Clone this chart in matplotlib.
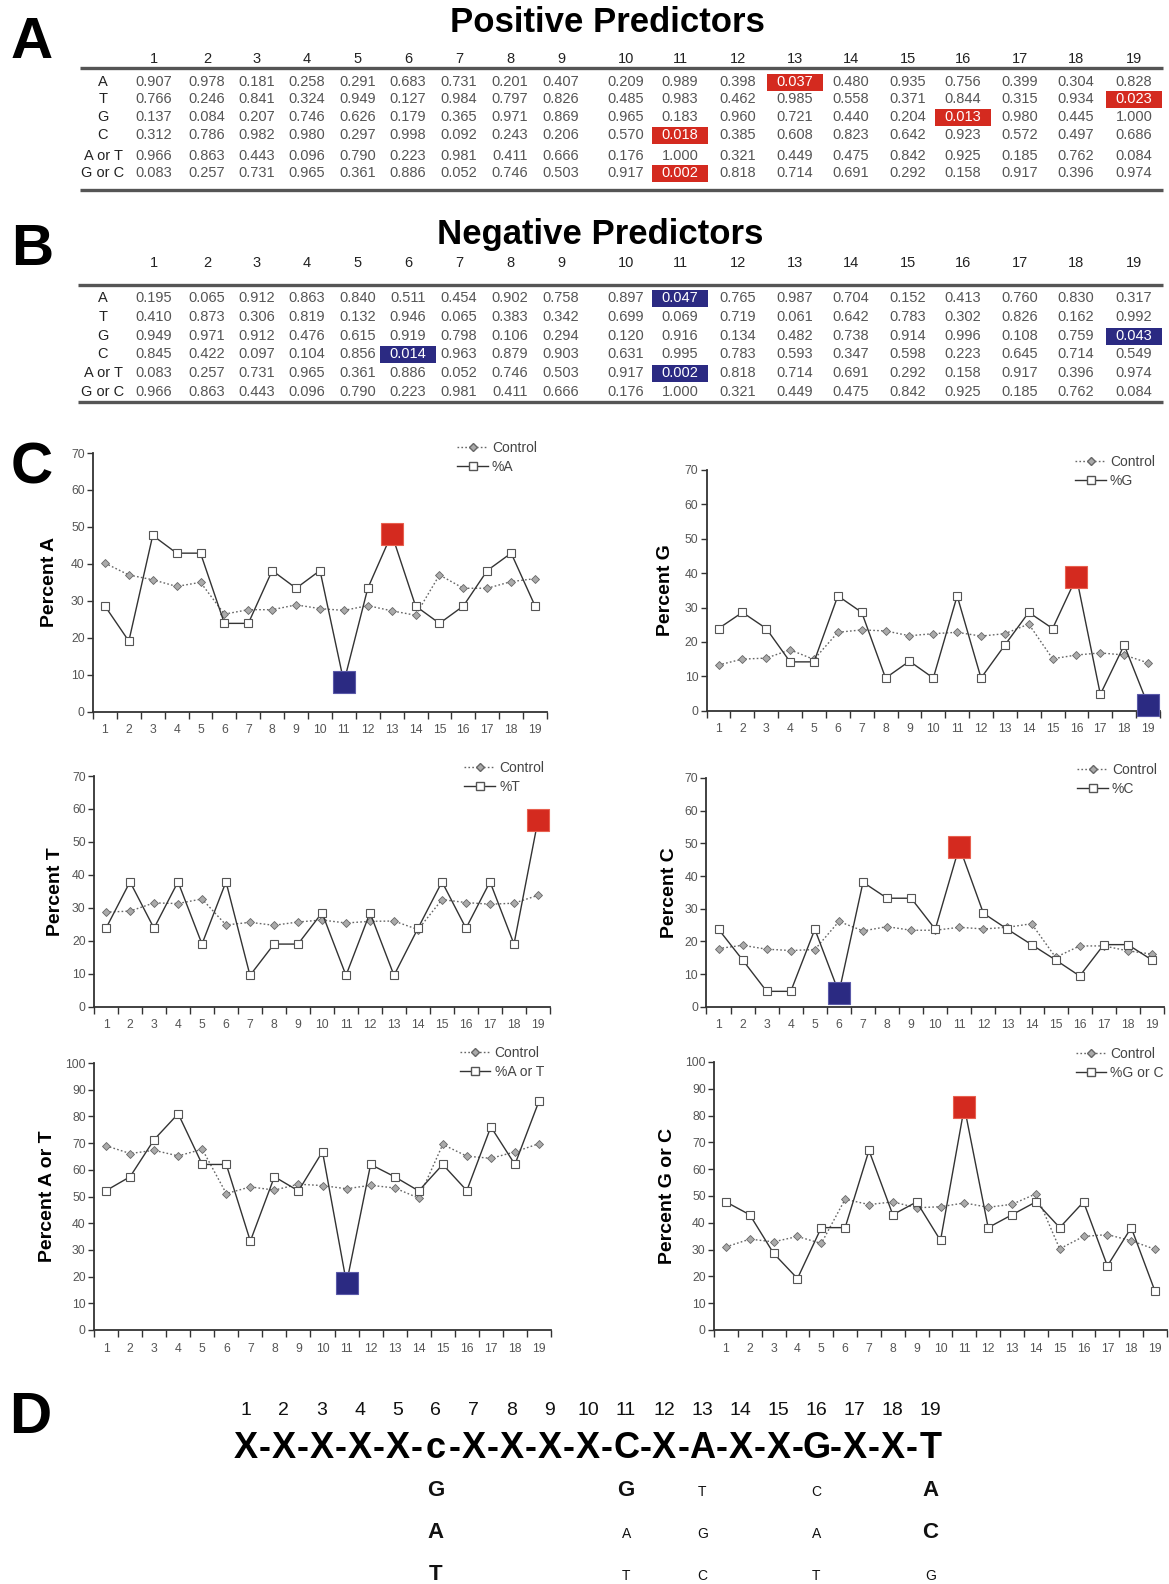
import matplotlib
matplotlib.use("Agg")
import matplotlib.pyplot as plt
from matplotlib.patches import Rectangle
from matplotlib.lines import Line2D
import numpy as np

plt.rcParams['font.family'] = ['Liberation Sans', 'DejaVu Sans']

# ---------------- DATA ----------------
positions = list(range(1, 20))
row_labels = ["A", "T", "G", "C", "A or T", "G or C"]

pos_A = [0.907, 0.978, 0.181, 0.258, 0.291, 0.683, 0.731, 0.201, 0.407, 0.209, 0.989, 0.398, 0.037, 0.480, 0.935, 0.756, 0.399, 0.304, 0.828]
pos_T = [0.766, 0.246, 0.841, 0.324, 0.949, 0.127, 0.984, 0.797, 0.826, 0.485, 0.983, 0.462, 0.985, 0.558, 0.371, 0.844, 0.315, 0.934, 0.023]
pos_G = [0.137, 0.084, 0.207, 0.746, 0.626, 0.179, 0.365, 0.971, 0.869, 0.965, 0.183, 0.960, 0.721, 0.440, 0.204, 0.013, 0.980, 0.445, 1.000]
pos_C = [0.312, 0.786, 0.982, 0.980, 0.297, 0.998, 0.092, 0.243, 0.206, 0.570, 0.018, 0.385, 0.608, 0.823, 0.642, 0.923, 0.572, 0.497, 0.686]
pos_AT = [0.966, 0.863, 0.443, 0.096, 0.790, 0.223, 0.981, 0.411, 0.666, 0.176, 1.000, 0.321, 0.449, 0.475, 0.842, 0.925, 0.185, 0.762, 0.084]
pos_GC = [0.083, 0.257, 0.731, 0.965, 0.361, 0.886, 0.052, 0.746, 0.503, 0.917, 0.002, 0.818, 0.714, 0.691, 0.292, 0.158, 0.917, 0.396, 0.974]

neg_A = [0.195, 0.065, 0.912, 0.863, 0.840, 0.511, 0.454, 0.902, 0.758, 0.897, 0.047, 0.765, 0.987, 0.704, 0.152, 0.413, 0.760, 0.830, 0.317]
neg_T = [0.410, 0.873, 0.306, 0.819, 0.132, 0.946, 0.065, 0.383, 0.342, 0.699, 0.069, 0.719, 0.061, 0.642, 0.783, 0.302, 0.826, 0.162, 0.992]
neg_G = [0.949, 0.971, 0.912, 0.476, 0.615, 0.919, 0.798, 0.106, 0.294, 0.120, 0.916, 0.134, 0.482, 0.738, 0.914, 0.996, 0.108, 0.759, 0.043]
neg_C = [0.845, 0.422, 0.097, 0.104, 0.856, 0.014, 0.963, 0.879, 0.903, 0.631, 0.995, 0.783, 0.593, 0.347, 0.598, 0.223, 0.645, 0.714, 0.549]
neg_AT = [0.083, 0.257, 0.731, 0.965, 0.361, 0.886, 0.052, 0.746, 0.503, 0.917, 0.002, 0.818, 0.714, 0.691, 0.292, 0.158, 0.917, 0.396, 0.974]
neg_GC = [0.966, 0.863, 0.443, 0.096, 0.790, 0.223, 0.981, 0.411, 0.666, 0.176, 1.000, 0.321, 0.449, 0.475, 0.842, 0.925, 0.185, 0.762, 0.084]

pct_A = [28.6, 19.1, 47.7, 42.9, 42.9, 23.9, 23.9, 38.2, 33.4, 38.2, 8.0, 33.4, 48.1, 28.6, 23.9, 28.6, 38.2, 42.9, 28.6]
ctrl_A = [40.2, 37.0, 35.7, 33.9, 35.0, 26.4, 27.6, 27.6, 28.9, 27.9, 27.4, 28.7, 27.3, 26.1, 37.0, 33.4, 33.4, 35.2, 36.0]
pct_G = [23.9, 28.6, 23.9, 14.2, 14.2, 33.4, 28.6, 9.5, 14.4, 9.5, 33.4, 9.5, 19.1, 28.6, 23.9, 38.8, 4.75, 19.1, 1.6]
ctrl_G = [13.3, 15.0, 15.3, 17.7, 14.9, 22.8, 23.5, 23.2, 21.8, 22.4, 22.8, 21.7, 22.4, 25.2, 15.1, 16.2, 16.8, 16.2, 13.9]
pct_T = [23.8, 37.9, 23.8, 37.9, 19.0, 37.9, 9.5, 19.0, 19.0, 28.5, 9.5, 28.5, 9.5, 23.8, 37.9, 23.8, 37.9, 19.0, 56.6]
ctrl_T = [28.7, 29.0, 31.5, 31.3, 32.7, 24.8, 25.6, 24.7, 25.7, 26.3, 25.4, 25.9, 26.0, 23.4, 32.5, 31.6, 31.1, 31.4, 33.8]
pct_C = [23.7, 14.3, 4.7, 4.7, 23.7, 4.3, 38.1, 33.2, 33.2, 23.7, 49.0, 28.6, 23.7, 19.0, 14.3, 9.4, 19.0, 19.0, 14.3]
ctrl_C = [17.8, 18.8, 17.6, 17.2, 17.5, 26.1, 23.2, 24.5, 23.4, 23.4, 24.3, 23.8, 24.3, 25.4, 15.1, 18.6, 18.6, 17.1, 16.1]
pct_AT = [52.2, 57.4, 71.3, 81.0, 62.0, 62.0, 33.3, 57.4, 52.1, 66.8, 17.5, 62.0, 57.4, 52.1, 62.0, 52.2, 76.1, 62.0, 85.7]
ctrl_AT = [69.0, 66.1, 67.3, 65.2, 67.7, 51.1, 53.6, 52.4, 54.6, 54.1, 52.9, 54.2, 53.2, 49.4, 69.5, 65.1, 64.3, 66.7, 69.8]
pct_GC = [47.8, 43.0, 28.6, 19.2, 38.2, 38.2, 67.0, 43.0, 47.8, 33.4, 83.2, 38.2, 43.0, 47.8, 38.2, 47.8, 23.9, 38.2, 14.4]
ctrl_GC = [31.0, 33.9, 32.9, 34.9, 32.3, 48.8, 46.8, 47.8, 45.6, 46.0, 47.4, 45.8, 46.9, 50.8, 30.3, 34.9, 35.6, 33.3, 30.1]

consensus = ["X", "X", "X", "X", "X", "c", "X", "X", "X", "X", "C", "X", "A", "X", "X", "G", "X", "X", "T"]
# alternatives at a position: (letter, large?)
alternatives = {
    6: [("G", 1), ("A", 1), ("T", 1)],
    11: [("G", 1), ("A", 0), ("T", 0)],
    13: [("T", 0), ("G", 0), ("C", 0)],
    16: [("C", 0), ("A", 0), ("T", 0)],
    19: [("A", 1), ("C", 1), ("G", 0)],
}
SIG = 0.05

pos_table = [pos_A, pos_T, pos_G, pos_C, pos_AT, pos_GC]
neg_table = [neg_A, neg_T, neg_G, neg_C, neg_AT, neg_GC]

# ---------------- LAYOUT ----------------
W, H = 1169, 1584
fig = plt.figure(figsize=(W / 100, H / 100), dpi=100)
fig.patch.set_facecolor("white")
ov = fig.add_axes([0, 0, 1, 1])
ov.set_xlim(0, W)
ov.set_ylim(H, 0)
ov.axis("off")

RED = "#d42a1f"
BLUE = "#2b2a82"
col_x = [154, 207, 257, 307, 358, 408, 459, 510, 561, 626, 680, 738, 795, 851, 908, 963, 1020, 1076, 1134]
label_x = 103


def panel_letter(s, x, y):
    ov.text(x, y, s, fontsize=42, fontweight="bold", ha="left", va="baseline", color="black")


def draw_table(values, title, title_x, title_base, head_y, rows_y, rule_top, rule_bot, x_left, color):
    ov.text(title_x, title_base, title, fontsize=25, fontweight="bold", ha="center", va="baseline")
    for j, p in enumerate(positions):
        ov.text(col_x[j], head_y, str(p), fontsize=10.5, ha="center", va="center", color="#222")
    ov.plot([x_left, 1163], [rule_top, rule_top], color="#555", lw=2.4, solid_capstyle="butt")
    ov.plot([x_left, 1163], [rule_bot, rule_bot], color="#555", lw=2.4, solid_capstyle="butt")
    for i, lab in enumerate(row_labels):
        y = rows_y[i]
        ov.text(label_x, y, lab, fontsize=10.5, ha="center", va="center", color="#222")
        for j, v in enumerate(values[i]):
            if v < SIG:
                ov.add_patch(Rectangle((col_x[j] - 28, y - 8.5), 56, 17, facecolor=color,
                                       edgecolor="none", zorder=2))
                tc = "white"
            else:
                tc = "#555"
            ov.text(col_x[j], y, f"{v:.3f}", fontsize=10.5, ha="center", va="center",
                    color=tc, zorder=3)


panel_letter("A", 11, 58)
draw_table(pos_table, "Positive Predictors", 607, 32, 59,
           [82, 99, 117, 135, 156, 173], 68, 190, 80, RED)
panel_letter("B", 11, 265)
draw_table(neg_table, "Negative Predictors", 600, 244, 263,
           [298, 317, 336, 354, 373, 392], 285, 402, 78, BLUE)
panel_letter("C", 11, 483)


def chart(series, control, row, label, ylabel, box, ymax, leg_xy, ylab_x):
    x0, x1, yt, yb = box
    ax = fig.add_axes([x0 / W, 1 - yb / H, (x1 - x0) / W, (yb - yt) / H])
    ax.set_facecolor("none")
    ax.plot(positions, control, linestyle=(0, (1.2, 1.6)), color="#666", lw=1.0,
            marker="D", markersize=3.6, markerfacecolor="#aaa", markeredgecolor="#666",
            markeredgewidth=0.6, zorder=3)
    ax.plot(positions, series, linestyle="-", color="#333", lw=1.0,
            marker="s", markersize=5.5, markerfacecolor="white", markeredgecolor="#555",
            markeredgewidth=0.8, zorder=4)
    for j, p in enumerate(positions):
        if pos_table[row][j] < SIG:
            ax.plot([p], [series[j]], marker="s", markersize=16, color=RED,
                    markeredgecolor="#e8604f", markeredgewidth=0.8, zorder=6, clip_on=False)
        elif neg_table[row][j] < SIG:
            ax.plot([p], [series[j]], marker="s", markersize=16, color=BLUE,
                    markeredgecolor="#5a59a8", markeredgewidth=0.8, zorder=6, clip_on=False)
    ax.set_xlim(0.5, 19.5)
    ax.set_ylim(0, ymax)
    ax.set_yticks(np.arange(0, ymax + 1, 10))
    ax.set_xticks(positions)
    ax.set_xticks(np.arange(0.5, 20, 1), minor=True)
    ax.tick_params(axis="x", which="major", length=0, pad=9, labelsize=8.8, labelcolor="#555")
    ax.tick_params(axis="x", which="minor", length=5, width=1.0, color="#333", direction="out")
    ax.tick_params(axis="y", length=4, width=1.0, color="#333", direction="out",
                   labelsize=8.8, labelcolor="#555", pad=2)
    for s in ("top", "right"):
        ax.spines[s].set_visible(False)
    for s in ("left", "bottom"):
        ax.spines[s].set_color("#333")
        ax.spines[s].set_linewidth(1.3)
    handles = [
        Line2D([], [], linestyle=(0, (1.2, 1.6)), color="#666", lw=1.0, marker="D",
               markersize=3.6, markerfacecolor="#aaa", markeredgecolor="#666"),
        Line2D([], [], linestyle="-", color="#333", lw=1.0, marker="s", markersize=5.5,
               markerfacecolor="white", markeredgecolor="#555"),
    ]
    leg = fig.legend(handles, ["Control", label], loc="upper right",
                     bbox_to_anchor=(leg_xy[0] / W, 1 - leg_xy[1] / H),
                     bbox_transform=fig.transFigure, frameon=False, fontsize=10,
                     handlelength=2.2, handletextpad=0.3, labelspacing=0.38,
                     borderpad=0, borderaxespad=0)
    for t in leg.get_texts():
        t.set_color("#444")
    fig.text(ylab_x / W, 1 - ((yt + yb) / 2) / H, ylabel, rotation=90, fontsize=14,
             fontweight="bold", ha="center", va="center")
    return ax


chart(pct_A, ctrl_A, 0, "%A", "Percent A", (93, 547, 453, 711.7), 70, (537, 441), 50)
chart(pct_G, ctrl_G, 2, "%G", "Percent G", (706.6, 1160, 470, 710.7), 70, (1155, 455), 666)
chart(pct_T, ctrl_T, 1, "%T", "Percent T", (94, 550, 776, 1006.7), 70, (544, 761), 55)
chart(pct_C, ctrl_C, 3, "%C", "Percent C", (706.5, 1164, 778, 1006.7), 70, (1157, 763), 669)
chart(pct_AT, ctrl_AT, 4, "%A or T", "Percent A or T", (94, 551, 1063, 1330), 100, (544, 1046), 48)
chart(pct_GC, ctrl_GC, 5, "%G or C", "Percent G or C", (714, 1167, 1062, 1330), 100, (1164, 1047), 668)

# ---------------- PANEL D ----------------
panel_letter("D", 9, 1433)
d_x0, d_dx = 245.5, 38.06
for j, p in enumerate(positions):
    x = d_x0 + j * d_dx
    ov.text(x, 1415, str(p), fontsize=14, ha="center", va="baseline", color="#111")
    ov.text(x, 1458, consensus[j], fontsize=26, fontweight="bold", ha="center",
            va="baseline", color="black")
    if j < len(positions) - 1:
        ov.text(x + d_dx / 2, 1458, "-", fontsize=26, fontweight="bold", ha="center",
                va="baseline", color="black")
alt_base = [1496, 1538, 1580]
for p, letters in alternatives.items():
    x = d_x0 + (p - 1) * d_dx
    for k, (let, big) in enumerate(letters):
        ov.text(x, alt_base[k], let, fontsize=16 if big else 10,
                fontweight="bold" if big else "normal", ha="center", va="baseline",
                color="#111")

fig.savefig("out.png", dpi=100, facecolor="white")
